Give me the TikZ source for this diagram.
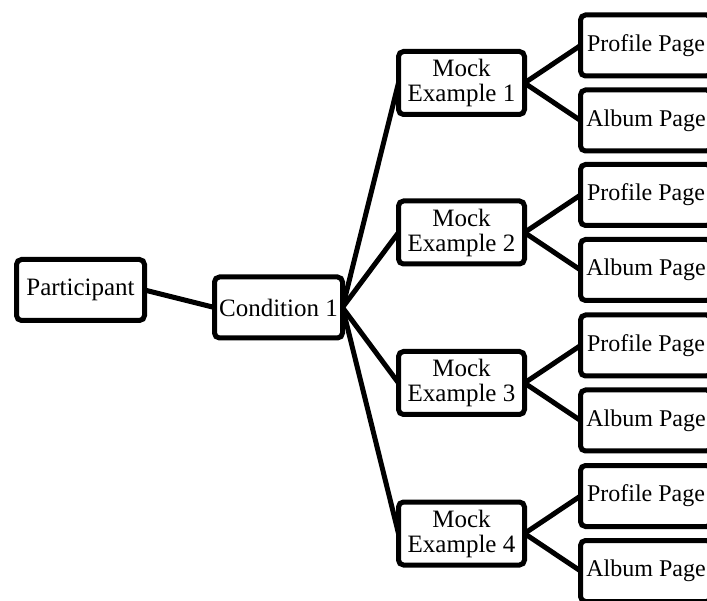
\documentclass[tikz,border=0pt]{standalone}
\usepackage{fontspec}
\setmainfont{Liberation Serif}
\usetikzlibrary{positioning}
\tikzset{
node distance=56pt,
box/.style={%
    rectangle,
    rounded corners=5pt,
    draw=black,
    fill=white,
    line width=5pt,
    outer sep=0pt,
    align=center,
    inner sep=2pt,
    % Font
    font=\fontsize{25}{25}\selectfont
},
mainbox/.style={box, minimum width=128pt, minimum height=61pt},
mockbox/.style={box, minimum width=126pt, minimum height=63pt},
pagebox/.style={box, minimum width=131pt, minimum height=61pt,
    font=\fontsize{24}{25}\selectfont},
link/.style={draw=black, line width=5pt, line cap=round},
}

\begin{document}
\begin{tikzpicture}[x=1pt, y=-1pt]
			\clip (0,0) rectangle (707,601);
			\node[mainbox] (part) at (80.5,290) {Participant};
			\node[mainbox, right=70pt of part, yshift=-17.5pt] (cond) {Condition 1};
			\draw[link] (part.east) -- (cond.west);

			\foreach \i/\y in {1/83, 2/232.5, 3/383, 4/533.5} {
				\node[mockbox] (mock\i) at (461.5,\y) {Mock\\Example \i};
				\node[pagebox, right=of mock\i, yshift=37.5pt] (prof\i) {Profile Page};
				\node[pagebox, right=of mock\i, yshift=-37.5pt] (album\i) {Album Page};
				\draw[link] (cond.east) -- (mock\i.west);
				\draw[link] (mock\i.east) -- (prof\i.west);
				\draw[link] (mock\i.east) -- (album\i.west);
			}
		\end{tikzpicture}
\end{document}
